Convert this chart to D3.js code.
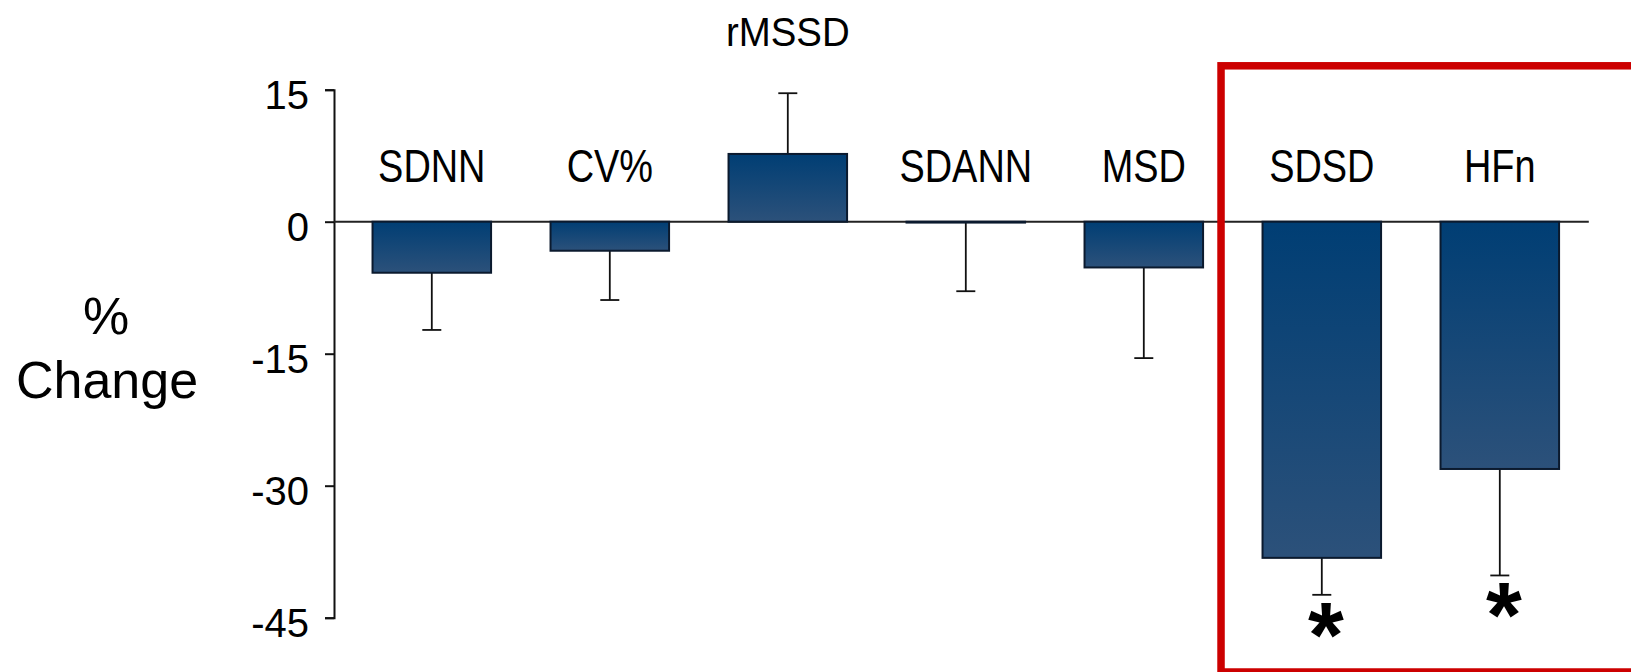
<!DOCTYPE html>
<html>
<head>
<meta charset="utf-8">
<script src="https://cdn.jsdelivr.net/npm/d3@7"></script>
<style>
  html, body { margin: 0; padding: 0; background: #fff; }
  svg { display: block; }
</style>
</head>
<body>
<svg id="chart" width="1631" height="672"></svg>
<script>
// HRV indices: mean % change with one-sided error bars
const categories = ["SDNN", "CV%", "rMSSD", "SDANN", "MSD", "SDSD", "HFn"];
const values     = [-5.8, -3.3, 7.7, -0.1, -5.2, -38.2, -28.1];
const errors     = [6.5, 5.6, 6.9, 7.8, 10.3, 4.2, 12.1];
const significant = [false, false, false, false, false, true, true];
const highlighted = ["SDSD", "HFn"];
const yTicks     = [15, 0, -15, -30, -45];

const svg = d3.select("#chart");

const x = d3.scaleBand()
  .domain(categories)
  .range([342.8, 1588.8])
  .paddingInner(0.334)
  .paddingOuter(0.167);

const y = d3.scaleLinear()
  .domain([-45, 15])
  .range([617.7, 89.7]);

const axisX = 334;
const sans = "'Liberation Sans', Arial, sans-serif";

// bar gradient: darker navy at top, lighter steel blue below
const defs = svg.append("defs");
const grad = defs.append("linearGradient")
  .attr("id", "barGrad")
  .attr("x1", 0).attr("y1", 0).attr("x2", 0).attr("y2", 1);
grad.append("stop").attr("offset", "0%").attr("stop-color", "#003e74");
grad.append("stop").attr("offset", "100%").attr("stop-color", "#2c517a");

const data = categories.map((c, i) => ({
  cat: c, value: values[i], err: errors[i], sig: significant[i]
}));

// y axis
const yAxis = d3.axisLeft(y)
  .tickValues(yTicks)
  .tickSize(9)
  .tickPadding(16)
  .tickFormat(d => String(d));

const gy = svg.append("g")
  .attr("transform", `translate(${axisX},0)`)
  .call(yAxis);
gy.select(".domain")
  .attr("stroke", "#111")
  .attr("stroke-width", 2);
gy.selectAll(".tick line")
  .attr("stroke", "#111")
  .attr("stroke-width", 2);
gy.selectAll(".tick text")
  .attr("font-family", sans)
  .attr("font-size", 40)
  .attr("fill", "#000")
  .attr("dy", 18.3);

// y axis title
const title = svg.append("g")
  .attr("font-family", sans)
  .attr("font-size", 52)
  .attr("fill", "#000")
  .attr("text-anchor", "middle");
title.append("text").attr("x", 106).attr("y", 334).text("%");
title.append("text").attr("x", 107).attr("y", 397.7).text("Change");

// error bars (drawn first so the bars sit on top of the stem)
const errEnd = d => d.value >= 0 ? d.value + d.err : d.value - d.err;
const cx = d => x(d.cat) + x.bandwidth() / 2;

const eb = svg.append("g")
  .attr("stroke", "#111")
  .attr("stroke-width", 1.8);
eb.selectAll("line.stem")
  .data(data)
  .join("line")
  .attr("class", "stem")
  .attr("x1", cx).attr("x2", cx)
  .attr("y1", d => y(d.value))
  .attr("y2", d => y(errEnd(d)));
eb.selectAll("line.cap")
  .data(data)
  .join("line")
  .attr("class", "cap")
  .attr("x1", d => cx(d) - 9.5).attr("x2", d => cx(d) + 9.5)
  .attr("y1", d => y(errEnd(d)))
  .attr("y2", d => y(errEnd(d)));

// zero line
svg.append("line")
  .attr("x1", axisX).attr("x2", x.range()[1])
  .attr("y1", y(0)).attr("y2", y(0))
  .attr("stroke", "#222")
  .attr("stroke-width", 2);

// bars
svg.append("g")
  .selectAll("rect")
  .data(data)
  .join("rect")
  .attr("x", d => x(d.cat))
  .attr("width", x.bandwidth())
  .attr("y", d => y(Math.max(0, d.value)))
  .attr("height", d => Math.abs(y(d.value) - y(0)))
  .attr("fill", "url(#barGrad)")
  .attr("stroke", "#0b1a2e")
  .attr("stroke-width", 2);

// category labels, set in a condensed face (horizontally compressed sans)
const labelY = d => d.value > 0 ? y(d.value + d.err) - 47 : y(0) - 39.4;
svg.append("g")
  .attr("font-family", sans)
  .attr("fill", "#000")
  .attr("text-anchor", "middle")
  .selectAll("text")
  .data(data)
  .join("text")
  .attr("transform", d => `translate(${cx(d)},${labelY(d)}) scale(${d.value > 0 ? 0.96 : 0.815},1)`)
  .attr("font-size", d => d.value > 0 ? 40 : 46.5)
  .text(d => d.cat);

// significance markers
svg.append("g")
  .attr("font-family", sans)
  .attr("font-weight", "bold")
  .attr("font-size", 92)
  .attr("fill", "#000")
  .attr("text-anchor", "middle")
  .selectAll("text")
  .data(data.filter(d => d.sig))
  .join("text")
  .attr("x", d => cx(d) + 4)
  .attr("y", d => y(errEnd(d)) + 72)
  .text("*");

// highlight box around the significant indices
const hl = highlighted.map(c => x(c));
svg.append("rect")
  .attr("x", hl[0] - 41.5)
  .attr("y", 65.8)
  .attr("width", 520)
  .attr("height", 606.2)
  .attr("fill", "none")
  .attr("stroke", "#cc0000")
  .attr("stroke-width", 7.5);
</script>
</body>
</html>
